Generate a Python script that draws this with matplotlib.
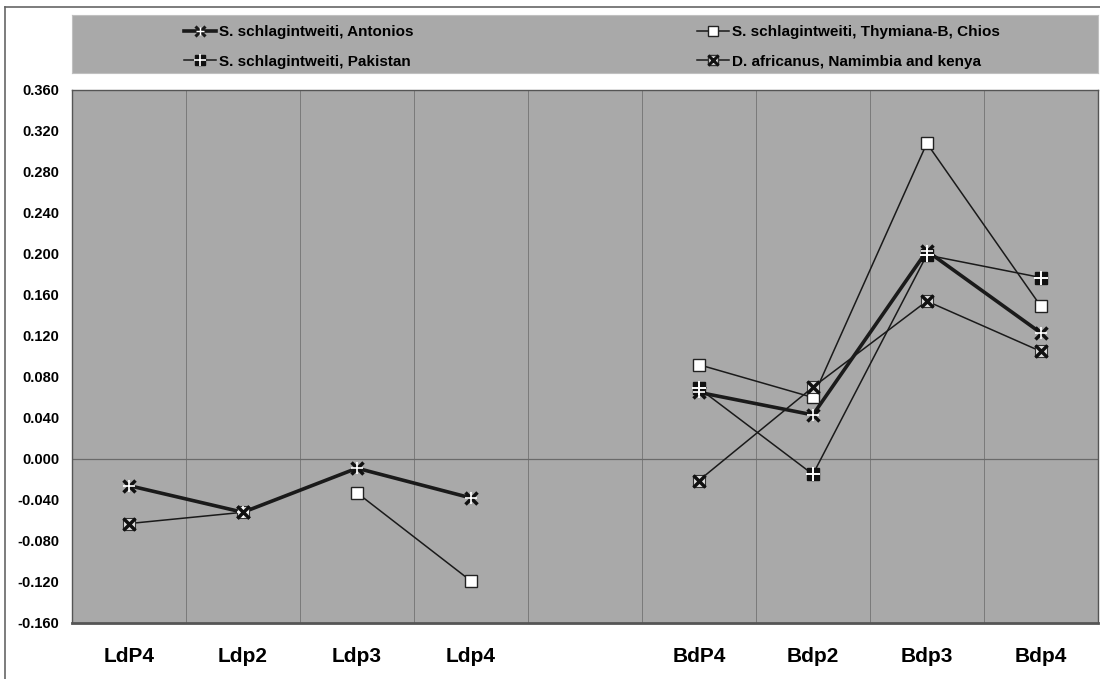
import matplotlib.pyplot as plt
from matplotlib.lines import Line2D
import numpy as np

# categorias (a quinta fica vazia, separa L de B)
categorias = ['LdP4', 'Ldp2', 'Ldp3', 'Ldp4', '', 'BdP4', 'Bdp2', 'Bdp3', 'Bdp4']
nan = np.nan

antonios = [-0.026, -0.052, -0.009, -0.038, nan, 0.065, 0.043, 0.203, 0.123]
thymiana = [nan, nan, -0.033, -0.119, nan, 0.092, 0.060, 0.308, 0.149]
pakistan = [nan, nan, nan, nan, nan, 0.069, -0.015, 0.199, 0.177]
africanus = [-0.063, -0.052, nan, nan, nan, -0.021, 0.070, 0.154, 0.105]

nomes = ['S. schlagintweiti, Antonios', 'S. schlagintweiti, Thymiana-B, Chios',
         'S. schlagintweiti, Pakistan', 'D. africanus, Namimbia and kenya']

y_ticks = np.arange(-0.16, 0.361, 0.04)

plt.rcParams['font.family'] = ['Liberation Sans', 'DejaVu Sans']

fig = plt.figure(figsize=(11, 6.79), dpi=100)
ax = fig.add_axes([0.0655, 0.0825, 0.9325, 0.785])
ax.set_facecolor('#a9a9a9')

x = np.arange(len(categorias))


def plota(vals, lw):
    # liga os pontos consecutivos validos
    v = np.array(vals, dtype=float)
    m = ~np.isnan(v)
    xs, ys = x[m], v[m]
    # separa segmentos onde ha buraco
    grupos = np.split(np.arange(len(xs)), np.where(np.diff(xs) > 1)[0] + 1)
    for g in grupos:
        ax.plot(xs[g], ys[g], color='#1a1a1a', lw=lw, zorder=3)
    return xs, ys


xs, ys = plota(antonios, 2.6)
ax.plot(xs, ys, ls='none', marker='x', ms=9, mew=2.5, color='#111111', zorder=5)
ax.plot(xs, ys, ls='none', marker='+', ms=8, mew=1.2, color='white', zorder=6)

xs, ys = plota(thymiana, 1.1)
ax.plot(xs, ys, ls='none', marker='s', ms=9, mfc='white', mec='#222222', mew=1.0, zorder=5)

xs, ys = plota(pakistan, 1.1)
ax.plot(xs, ys, ls='none', marker='s', ms=9, mfc='#111111', mec='#111111', zorder=5)
ax.plot(xs, ys, ls='none', marker='+', ms=10, mew=1.4, color='white', zorder=6)

xs, ys = plota(africanus, 1.1)
ax.plot(xs, ys, ls='none', marker='s', ms=9, mfc='#e0e0e0', mec='#333333', mew=0.8, zorder=5)
ax.plot(xs, ys, ls='none', marker='x', ms=9, mew=2.5, color='#111111', zorder=6)

ax.set_xlim(-0.5, len(categorias) - 0.5)
ax.set_ylim(-0.16, 0.36)
ax.set_yticks(y_ticks)
ax.set_yticklabels([f'{t:.3f}' for t in y_ticks], fontsize=10.5, fontweight='bold')
ax.set_xticks(x)
ax.set_xticklabels(categorias, fontsize=15, fontweight='bold')
ax.tick_params(axis='x', length=0, pad=17)
ax.tick_params(axis='y', length=0, pad=9)

for b in np.arange(0.5, len(categorias) - 1, 1):
    ax.axvline(b, color='#7a7a7a', lw=0.7, zorder=1)
ax.axhline(0, color='#6a6a6a', lw=0.9, zorder=1)
for s in ax.spines.values():
    s.set_color('#555555')
    s.set_linewidth(1.0)
ax.spines['bottom'].set_linewidth(2.0)

# caixa da legenda
lax = fig.add_axes([0.0655, 0.8925, 0.9325, 0.0855])
lax.set_facecolor('#a9a9a9')
lax.set_xticks([])
lax.set_yticks([])
for s in lax.spines.values():
    s.set_color('#c0c0c0')

h_ant = (Line2D([], [], color='#1a1a1a', lw=2.6, marker='x', ms=7, mew=2.2),
         Line2D([], [], ls='none', marker='+', ms=6, mew=1.0, color='white'))
h_thy = Line2D([], [], color='#1a1a1a', lw=1.1, marker='s', ms=7, mfc='white', mec='#222222')
h_pak = (Line2D([], [], color='#1a1a1a', lw=1.1, marker='s', ms=7, mfc='#111111', mec='#111111'),
         Line2D([], [], ls='none', marker='+', ms=8, mew=1.2, color='white'))
h_afr = (Line2D([], [], color='#1a1a1a', lw=1.1, marker='s', ms=7, mfc='#e0e0e0', mec='#333333'),
         Line2D([], [], ls='none', marker='x', ms=7, mew=2.2, color='#111111'))

kw = dict(frameon=False, handlelength=2.1, handletextpad=0.2, borderpad=0,
          labelspacing=1.0, prop={'weight': 'bold', 'size': 11})
leg1 = lax.legend([h_ant, h_pak], [nomes[0], nomes[2]], loc='center left',
                  bbox_to_anchor=(0.102, 0.45), **kw)
lax.add_artist(leg1)
lax.legend([h_thy, h_afr], [nomes[1], nomes[3]], loc='center left',
           bbox_to_anchor=(0.602, 0.45), **kw)

# moldura externa
fig.add_artist(Line2D([0.0045, 0.0045], [0, 0.9897], color='#666666', lw=1.2))
fig.add_artist(Line2D([0.0045, 1.0], [0.9897, 0.9897], color='#666666', lw=1.2))

plt.savefig('out.png')
